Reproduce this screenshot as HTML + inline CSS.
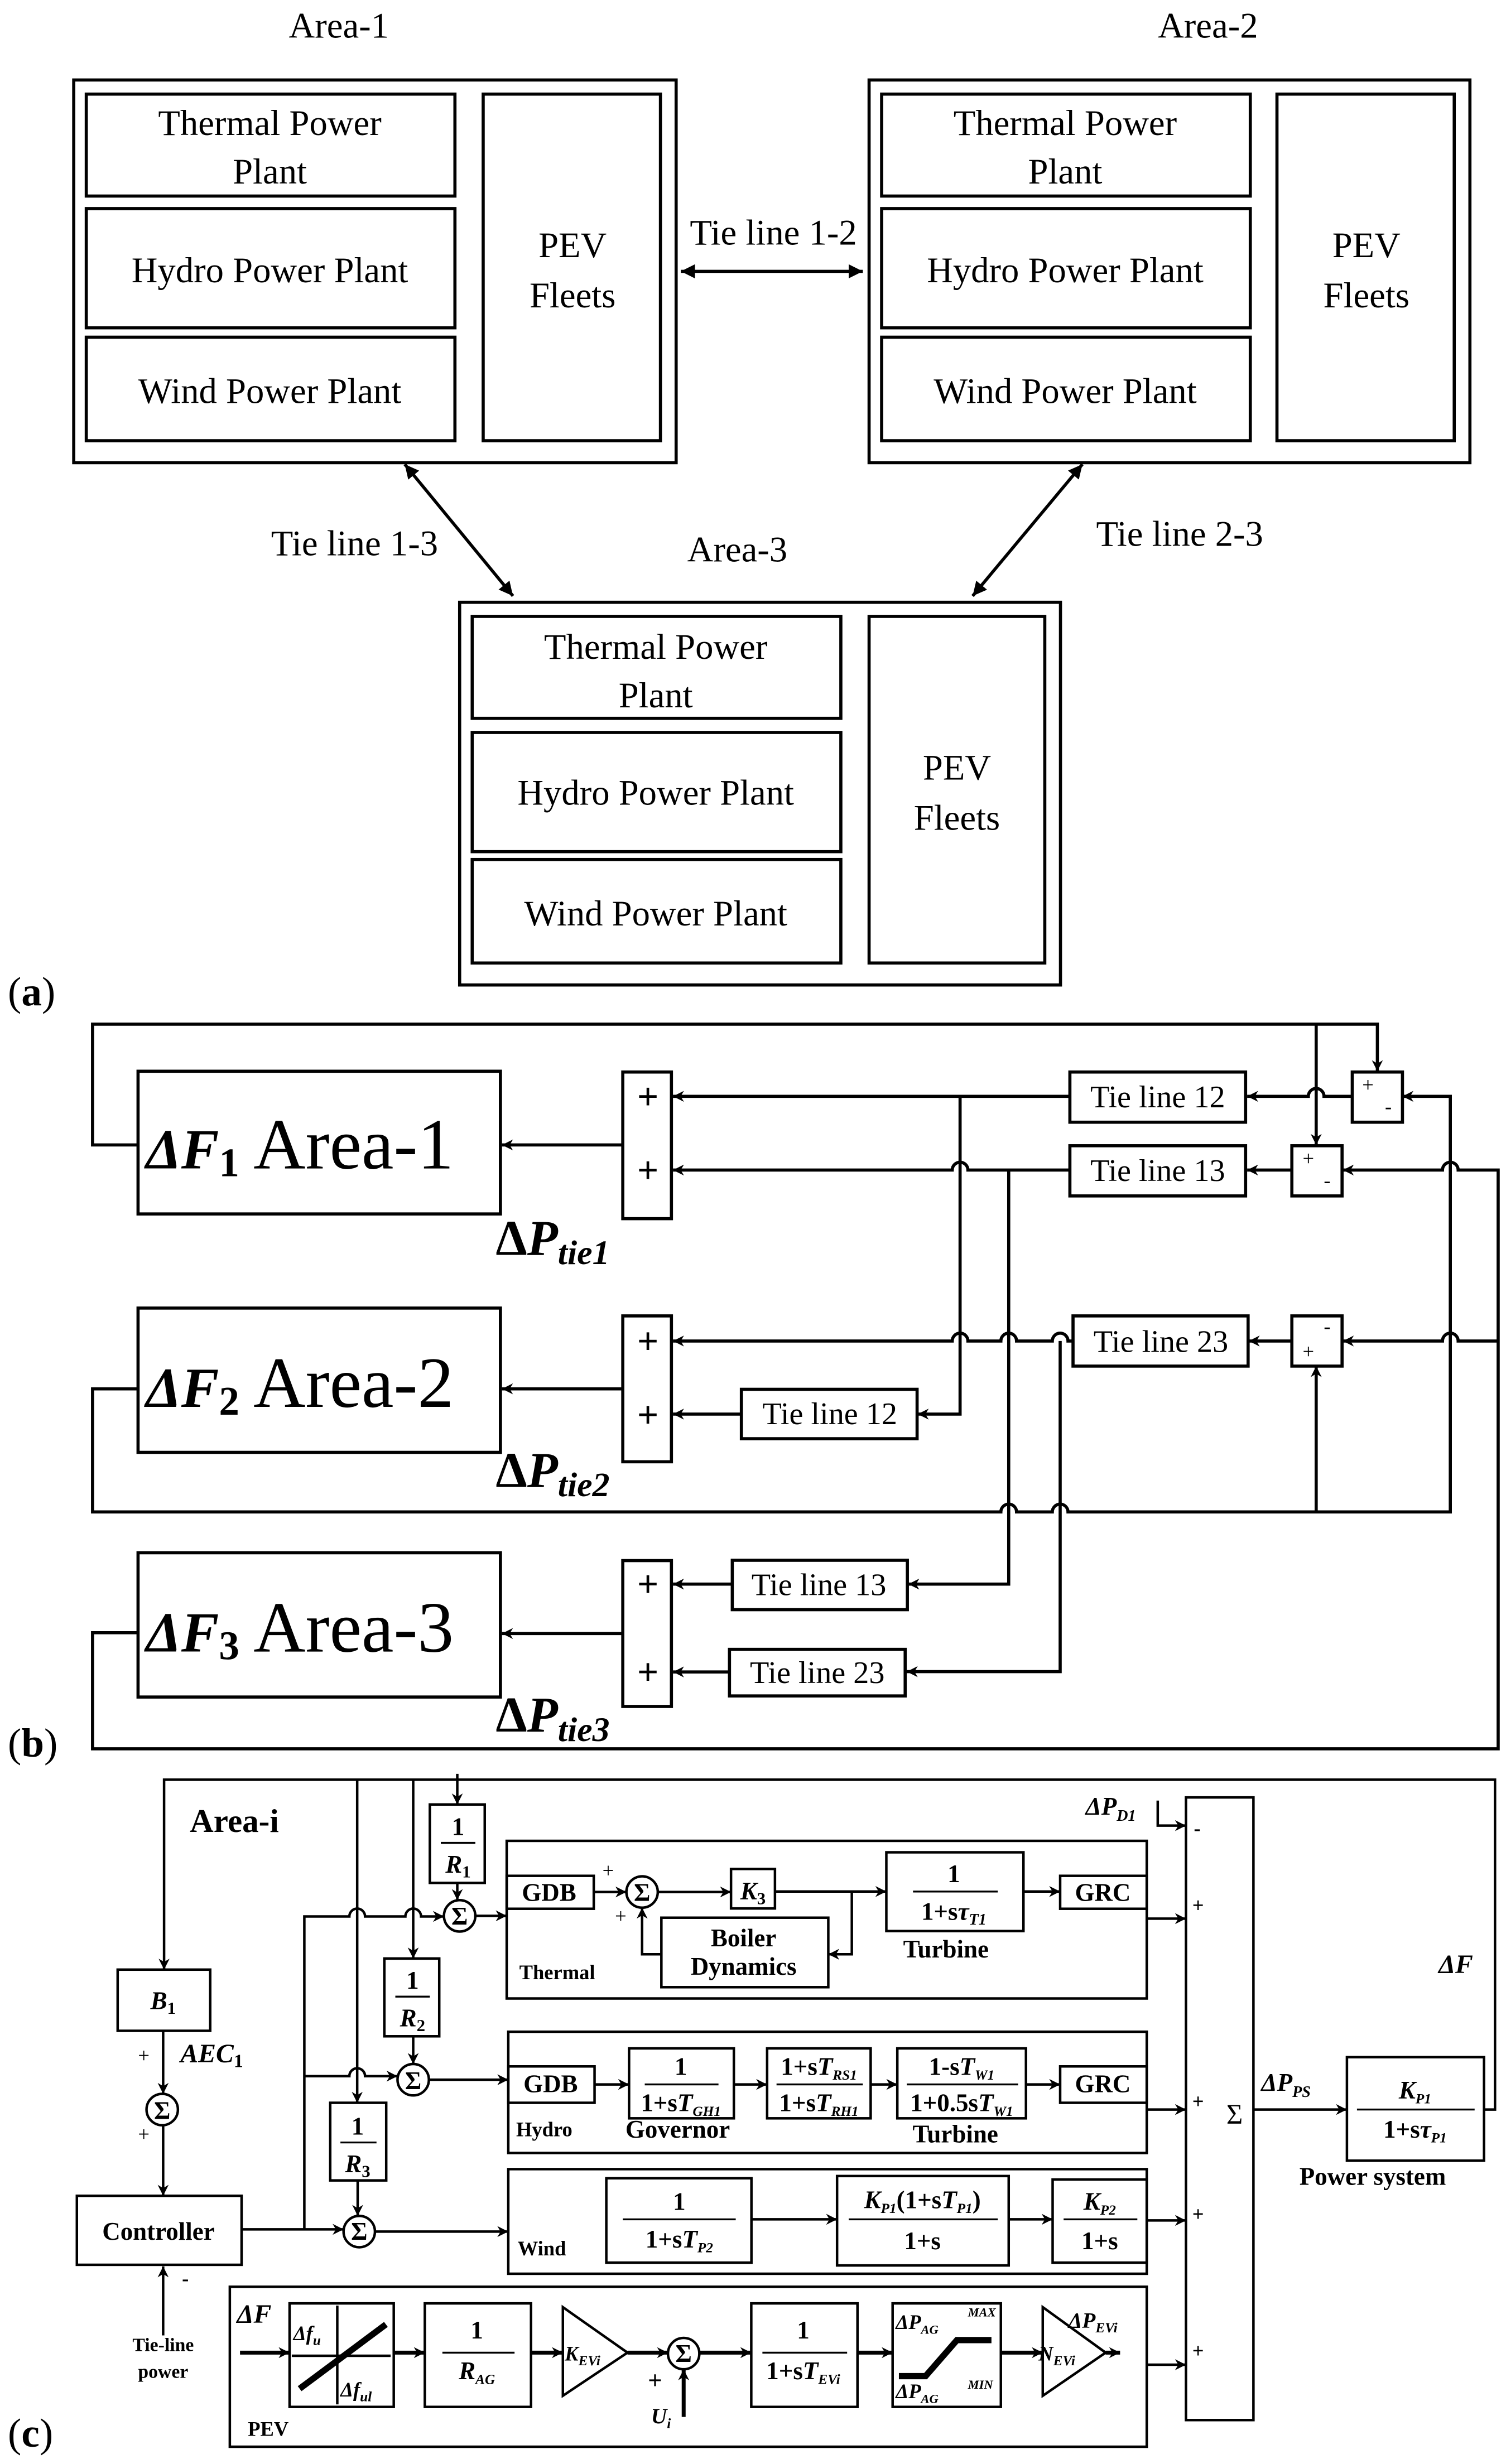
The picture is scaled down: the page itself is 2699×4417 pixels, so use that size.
<!DOCTYPE html>
<html><head><meta charset="utf-8"><style>
html,body{margin:0;padding:0;background:#fff}
svg{display:block}
.s{font-family:"Liberation Serif",serif}
.b{font-family:"Liberation Serif",serif;font-weight:bold}
</style></head><body>
<svg width="2699" height="4417" viewBox="0 0 960 1571" preserveAspectRatio="none" xmlns="http://www.w3.org/2000/svg">
<defs>
<marker id="a" viewBox="0 0 10 10" refX="10" refY="5" markerWidth="7" markerHeight="7" markerUnits="userSpaceOnUse" orient="auto"><path d="M0,0 L10,5 L0,10 L3,5 z" fill="#000"/></marker>
<marker id="a2" viewBox="0 0 10 10" refX="10" refY="5" markerWidth="9" markerHeight="9" markerUnits="userSpaceOnUse" orient="auto-start-reverse"><path d="M0,0 L10,5 L0,10 z" fill="#000"/></marker>
</defs>
<rect width="960" height="1571" fill="#fff"/>

<!-- ===== (a) ===== -->
<g fill="none" stroke="#000" stroke-width="2">
<rect x="47" y="51" width="384" height="244"/>
<rect x="55" y="60" width="235" height="65"/><rect x="55" y="133" width="235" height="76"/><rect x="55" y="215" width="235" height="66"/><rect x="308" y="60" width="113" height="221"/>
<rect x="554" y="51" width="383" height="244"/>
<rect x="562" y="60" width="235" height="65"/><rect x="562" y="133" width="235" height="76"/><rect x="562" y="215" width="235" height="66"/><rect x="814" y="60" width="113" height="221"/>
<rect x="293" y="384" width="383" height="244"/>
<rect x="301" y="393" width="235" height="65"/><rect x="301" y="467" width="235" height="76"/><rect x="301" y="548" width="235" height="66"/><rect x="554" y="393" width="112" height="221"/>
<line x1="434" y1="173" x2="550" y2="173" marker-start="url(#a2)" marker-end="url(#a2)"/>
<line x1="258" y1="296" x2="327" y2="380" marker-start="url(#a2)" marker-end="url(#a2)"/>
<line x1="690" y1="296" x2="620" y2="380" marker-start="url(#a2)" marker-end="url(#a2)"/>
</g>
<g class="s" font-size="23" text-anchor="middle" fill="#000">
<text x="216" y="24">Area-1</text><text x="770" y="24">Area-2</text><text x="470" y="358">Area-3</text>
<text x="172" y="86">Thermal Power</text><text x="172" y="117">Plant</text>
<text x="172" y="180">Hydro Power Plant</text><text x="172" y="257">Wind Power Plant</text>
<text x="365" y="164">PEV</text><text x="365" y="196">Fleets</text>
<text x="679" y="86">Thermal Power</text><text x="679" y="117">Plant</text>
<text x="679" y="180">Hydro Power Plant</text><text x="679" y="257">Wind Power Plant</text>
<text x="871" y="164">PEV</text><text x="871" y="196">Fleets</text>
<text x="418" y="420">Thermal Power</text><text x="418" y="451">Plant</text>
<text x="418" y="513">Hydro Power Plant</text><text x="418" y="590">Wind Power Plant</text>
<text x="610" y="497">PEV</text><text x="610" y="529">Fleets</text>
<text x="493" y="156">Tie line 1-2</text>
<text x="226" y="354">Tie line 1-3</text>
<text x="752" y="348">Tie line 2-3</text>
</g>
<text x="5" y="641" class="s" font-size="26" fill="#000">(<tspan font-weight="bold">a</tspan>)</text>

<!-- ===== (b) ===== -->
<g fill="none" stroke="#000" stroke-width="2">
<rect x="88" y="683" width="231" height="91"/><rect x="88" y="834" width="231" height="92"/><rect x="88" y="990" width="231" height="92"/>
<rect x="397" y="683.5" width="31" height="93.5"/><rect x="397" y="839" width="31" height="93"/><rect x="397" y="995" width="31" height="93"/>
<rect x="682" y="683.5" width="112" height="32"/><rect x="682" y="730.5" width="112" height="32"/><rect x="684" y="839" width="111.6" height="32"/>
<rect x="472.6" y="885.8" width="112" height="31.5"/><rect x="466.8" y="994.8" width="111.6" height="31.5"/><rect x="465" y="1051.6" width="112" height="29.7"/>
<rect x="862" y="683.5" width="32" height="32"/><rect x="823.5" y="730.5" width="32" height="32"/><rect x="823.5" y="839" width="32" height="32"/>
<g marker-end="url(#a)">
<line x1="397" y1="730" x2="320" y2="730"/><line x1="397" y1="885.5" x2="320" y2="885.5"/><line x1="397" y1="1041.5" x2="320" y2="1041.5"/>
<path d="M88,730 H59 V653 H878 V683"/>
<path d="M839,653 V730"/>
<path d="M862,699 H844 A5,5 0 0 0 834,699 H795"/>
<path d="M682,699 H429"/>
<path d="M823.5,746 H795"/>
<path d="M682,746 H617 A5,5 0 0 0 607,746 H429"/>
<path d="M612,699 V901.6 H585"/>
<path d="M823.5,855 H796"/>
<path d="M684,855 H680.8 A5,5 0 0 0 670.8,855 H648 A5,5 0 0 0 638,855 H617 A5,5 0 0 0 607,855 H429"/>
<path d="M643,746 V1010 H579"/>
<path d="M675.8,855 V1065.8 H578"/>
<path d="M472.6,901.6 H429"/><path d="M466.8,1010 H429"/><path d="M465,1066 H429"/>
<path d="M88,885.5 H59 V964 H638 A5,5 0 0 1 648,964 H670.8 A5,5 0 0 1 680.8,964 H924.5 V699 H894"/>
<path d="M839,964 V871"/>
<path d="M88,1041 H59 V1115 H955 V746 H929.5 A5,5 0 0 0 919.5,746 H856"/>
<path d="M955,855 H929.5 A5,5 0 0 0 919.5,855 H856"/>
</g>
</g>
<g class="b" font-size="24" text-anchor="middle" fill="#000">
<text x="413" y="707">+</text><text x="413" y="754">+</text><text x="413" y="863">+</text><text x="413" y="910">+</text><text x="413" y="1018">+</text><text x="413" y="1074">+</text>
</g>
<g class="s" font-size="13" fill="#000" text-anchor="middle">
<text x="872" y="696">+</text><text x="885" y="710">-</text>
<text x="834" y="743">+</text><text x="846" y="757">-</text>
<text x="846" y="850">-</text><text x="834" y="866">+</text>
</g>
<g class="s" font-size="20" fill="#000" text-anchor="middle">
<text x="738" y="706">Tie line 12</text><text x="738" y="753">Tie line 13</text><text x="740" y="862">Tie line 23</text>
<text x="529" y="908">Tie line 12</text><text x="522" y="1017">Tie line 13</text><text x="521" y="1073">Tie line 23</text>
</g>
<g class="s" font-size="46" fill="#000">
<text x="93" y="745"><tspan font-weight="bold" font-style="italic" font-size="36">ΔF</tspan><tspan font-weight="bold" font-size="26" dy="5">1</tspan><tspan dy="-5"> Area-1</tspan></text>
<text x="93" y="897"><tspan font-weight="bold" font-style="italic" font-size="36">ΔF</tspan><tspan font-weight="bold" font-size="26" dy="5">2</tspan><tspan dy="-5"> Area-2</tspan></text>
<text x="93" y="1053"><tspan font-weight="bold" font-style="italic" font-size="36">ΔF</tspan><tspan font-weight="bold" font-size="26" dy="5">3</tspan><tspan dy="-5"> Area-3</tspan></text>
</g>
<g class="b" font-size="32" fill="#000">
<text x="316" y="800">Δ<tspan font-style="italic">P</tspan><tspan font-size="22" font-style="italic" dy="6">tie1</tspan></text>
<text x="316" y="948">Δ<tspan font-style="italic">P</tspan><tspan font-size="22" font-style="italic" dy="6">tie2</tspan></text>
<text x="316" y="1104">Δ<tspan font-style="italic">P</tspan><tspan font-size="22" font-style="italic" dy="6">tie3</tspan></text>
</g>
<text x="5" y="1120" class="s" font-size="26" fill="#000">(<tspan font-weight="bold">b</tspan>)</text>

<!-- ===== (c) ===== -->
<g fill="none" stroke="#000" stroke-width="1.6">
<rect x="323" y="1173.7" width="408" height="100.5"/>
<rect x="324" y="1295.4" width="407" height="77.3"/>
<rect x="324" y="1383" width="407" height="66.7"/>
<rect x="146.5" y="1458" width="584.5" height="102"/>
<rect x="756" y="1146" width="43" height="397"/>
<rect x="858.6" y="1311.6" width="87.4" height="66"/>
<rect x="274" y="1150.5" width="35" height="50"/>
<rect x="245" y="1248.7" width="35" height="49.6"/>
<rect x="210.5" y="1340.7" width="35.7" height="49.5"/>
<rect x="75" y="1255.8" width="59" height="39"/>
<rect x="49" y="1400" width="105" height="44"/>
<circle cx="293" cy="1221.5" r="10"/><circle cx="263.4" cy="1326" r="10"/><circle cx="229" cy="1422.8" r="10"/><circle cx="103.4" cy="1345" r="10"/>
<rect x="323" y="1196" width="55.5" height="21"/>
<circle cx="409.3" cy="1206.3" r="10"/>
<rect x="466" y="1191.6" width="28" height="25.2"/>
<rect x="421.6" y="1222.7" width="106.4" height="44.3"/>
<rect x="565" y="1181" width="87.4" height="50.2"/>
<rect x="675.8" y="1196" width="55.2" height="21"/>
<rect x="324" y="1317.5" width="55" height="23.2"/>
<rect x="401" y="1306" width="66.8" height="44.6"/>
<rect x="489" y="1306" width="66" height="44.6"/>
<rect x="572" y="1306" width="82" height="44.6"/>
<rect x="675.8" y="1317.5" width="55.2" height="23.2"/>
<rect x="386.5" y="1388.8" width="92.5" height="53.8"/>
<rect x="533.6" y="1387.4" width="109.4" height="57"/>
<rect x="671" y="1389.6" width="60" height="53"/>
<rect x="184.6" y="1468.6" width="66.4" height="66"/>
<rect x="270.8" y="1468.6" width="67.7" height="66"/>
<path d="M358.8,1471 L400,1500 L358.8,1527.5 Z"/>
<circle cx="435.8" cy="1500.6" r="10"/>
<rect x="478.9" y="1468.6" width="67.7" height="66"/>
<rect x="569" y="1468.6" width="69" height="66"/>
<path d="M664.7,1471 L704.8,1500 L664.7,1527.5 Z"/>
<g marker-end="url(#a)">
<path d="M946,1345 H953 V1134.7 H104.6 V1255.8"/>
<path d="M227.7,1134.7 V1340.7"/>
<path d="M263.4,1134.7 V1248.7"/>
<path d="M291.5,1131 V1150.5"/>
<path d="M291.5,1200.6 V1211.5"/>
<path d="M194,1421.4 V1221.9 H222.7 A5,5 0 0 1 232.7,1221.9 H258.4 A5,5 0 0 1 268.4,1221.9 H283"/>
<path d="M303,1221.5 H323"/>
<path d="M263.4,1298.3 V1316"/>
<path d="M194,1323.7 H222.7 A5,5 0 0 1 232.7,1323.7 H253.4"/>
<path d="M273.4,1326 H324"/>
<path d="M228,1390.2 V1412.8"/>
<path d="M154,1421.4 H219"/>
<path d="M239,1422.8 H324"/>
<path d="M104,1294.8 V1335"/>
<path d="M104,1355 V1400"/>
<path d="M104,1489 V1445"/>
<path d="M378.5,1206.3 H399.3"/>
<path d="M419.3,1206.3 H466"/>
<path d="M494,1206 H565"/>
<path d="M543,1206 V1246 H528"/>
<path d="M421.6,1246 H409.3 V1216.3"/>
<path d="M652.4,1206 H675.8"/>
<path d="M379,1329 H401"/><path d="M467.8,1329 H489"/><path d="M555,1329 H572"/><path d="M654,1329 H675.8"/>
<path d="M479,1415 H533.6"/><path d="M643,1415 H671"/>
<path d="M731,1223.3 H756"/><path d="M731,1345 H756"/><path d="M731,1415.7 H756"/><path d="M731,1507.7 H756"/>
<path d="M738,1148 V1164 H756"/>
<path d="M799,1345 H858.6"/>
<path d="M153,1500 H184.6" stroke-width="2.5"/>
<path d="M251,1500 H270.8" stroke-width="2.5"/>
<path d="M338.5,1500 H358.8" stroke-width="2.5"/>
<path d="M400,1500 H425.8" stroke-width="2.5"/>
<path d="M435.8,1541 V1510.6" stroke-width="2.5"/>
<path d="M445.8,1500 H478.9" stroke-width="2.5"/>
<path d="M546.6,1500 H569" stroke-width="2.5"/>
<path d="M638,1500 H664.7" stroke-width="2.5"/>
<path d="M704.8,1500 H714" stroke-width="2.5"/>
</g>
<!-- deadband -->
<path d="M215,1470 V1533 M186,1502 H249"/>
<path d="M191,1523 L246,1482" stroke-width="4"/>
<path d="M573,1515 H590 L610,1492 H632" stroke-width="4"/>
<!-- fraction bars -->
<g stroke-width="1.2">
<path d="M281,1175 H303 M252,1273 H274 M217,1366 H240"/>
<path d="M582,1206 H636 M411,1329 H458 M495,1329 H550 M578,1329 H649 M397,1415 H469 M541,1415 H636 M678,1415 H725 M865,1345 H940 M282,1500 H328 M486,1500 H540"/>
</g>
</g>
<g class="b" fill="#000" font-size="16" text-anchor="middle">
<text x="292" y="1170">1</text><text x="292" y="1194" font-style="italic">R<tspan font-size="11" font-style="normal" dy="3">1</tspan></text>
<text x="263" y="1268">1</text><text x="263" y="1292" font-style="italic">R<tspan font-size="11" font-style="normal" dy="3">2</tspan></text>
<text x="228" y="1361">1</text><text x="228" y="1385" font-style="italic">R<tspan font-size="11" font-style="normal" dy="3">3</tspan></text>
<text x="104" y="1281" font-style="italic">B<tspan font-size="11" font-style="normal" dy="3">1</tspan></text>
<text x="101" y="1428">Controller</text>
<text x="350" y="1212">GDB</text>
<text x="480" y="1211" font-style="italic">K<tspan font-size="11" font-style="normal" dy="3">3</tspan></text>
<text x="474" y="1241">Boiler</text><text x="474" y="1259">Dynamics</text>
<text x="608" y="1200">1</text><text x="608" y="1224">1+s<tspan font-style="italic">τ</tspan><tspan font-size="10" font-style="italic" dy="3">T1</tspan></text>
<text x="703" y="1212">GRC</text>
<text x="603" y="1248">Turbine</text>
<text x="351" y="1334">GDB</text>
<text x="434" y="1323">1</text><text x="434" y="1346">1+s<tspan font-style="italic">T</tspan><tspan font-size="9" font-style="italic" dy="3">GH1</tspan></text>
<text x="522" y="1323">1+s<tspan font-style="italic">T</tspan><tspan font-size="9" font-style="italic" dy="3">RS1</tspan></text>
<text x="522" y="1346">1+s<tspan font-style="italic">T</tspan><tspan font-size="9" font-style="italic" dy="3">RH1</tspan></text>
<text x="613" y="1323">1-s<tspan font-style="italic">T</tspan><tspan font-size="9" font-style="italic" dy="3">W1</tspan></text>
<text x="613" y="1346">1+0.5s<tspan font-style="italic">T</tspan><tspan font-size="9" font-style="italic" dy="3">W1</tspan></text>
<text x="703" y="1334">GRC</text>
<text x="432" y="1363">Governor</text><text x="609" y="1366">Turbine</text>
<text x="433" y="1409">1</text><text x="433" y="1433">1+s<tspan font-style="italic">T</tspan><tspan font-size="9" font-style="italic" dy="3">P2</tspan></text>
<text x="588" y="1408"><tspan font-style="italic">K</tspan><tspan font-size="9" font-style="italic" dy="3">P1</tspan><tspan dy="-3">(1+s</tspan><tspan font-style="italic">T</tspan><tspan font-size="9" font-style="italic" dy="3">P1</tspan><tspan dy="-3">)</tspan></text>
<text x="588" y="1434">1+s</text>
<text x="701" y="1409" font-style="italic">K<tspan font-size="9" dy="3">P2</tspan></text><text x="701" y="1434">1+s</text>
<text x="902" y="1338" font-style="italic">K<tspan font-size="9" dy="3">P1</tspan></text>
<text x="902" y="1363">1+s<tspan font-style="italic">τ</tspan><tspan font-size="9" font-style="italic" dy="3">P1</tspan></text>
<text x="875" y="1393">Power system</text>
<text x="304" y="1491">1</text><text x="304" y="1517" font-style="italic">R<tspan font-size="9" dy="3">AG</tspan></text>
<text x="512" y="1491">1</text><text x="512" y="1517">1+s<tspan font-style="italic">T</tspan><tspan font-size="9" font-style="italic" dy="3">EVi</tspan></text>
<text x="104" y="1499" font-size="12">Tie-line</text><text x="104" y="1516" font-size="12">power</text>
</g>
<g class="b" fill="#000" font-size="16" text-anchor="middle">
<text x="293" y="1227">Σ</text><text x="263.4" y="1332">Σ</text><text x="229" y="1428">Σ</text><text x="103.4" y="1351">Σ</text><text x="409.3" y="1212">Σ</text><text x="435.8" y="1506">Σ</text>
<text x="787" y="1354" font-weight="normal" font-size="18">Σ</text>
</g>
<g class="b" fill="#000" font-size="13">
<text x="331" y="1262">Thermal</text><text x="329" y="1362">Hydro</text><text x="330" y="1438">Wind</text><text x="158" y="1553">PEV</text>
<text x="384" y="1197" font-weight="normal">+</text><text x="392" y="1226" font-weight="normal">+</text>
<text x="88" y="1315" font-weight="normal">+</text><text x="88" y="1365" font-weight="normal">+</text>
<text x="116" y="1457">-</text>
<text x="761" y="1170">-</text><text x="760" y="1219">+</text><text x="760" y="1344">+</text><text x="760" y="1416">+</text><text x="760" y="1503">+</text>
<text x="413" y="1523" font-size="16">+</text>
</g>
<g class="b" fill="#000" font-style="italic">
<text x="121" y="1168" font-size="21" font-style="normal">Area-i</text>
<text x="115" y="1315" font-size="17">AEC<tspan font-style="normal" font-size="12" dy="3">1</tspan></text>
<text x="917" y="1258" font-size="17">ΔF</text>
<text x="692" y="1157" font-size="16">ΔP<tspan font-size="10" dy="4">D1</tspan></text>
<text x="804" y="1333" font-size="16">ΔP<tspan font-size="10" dy="4">PS</tspan></text>
<text x="151" y="1481" font-size="17">ΔF</text>
<text x="187" y="1492" font-size="13">Δf<tspan font-size="9" dy="3">u</tspan></text>
<text x="217" y="1528" font-size="13">Δf<tspan font-size="9" dy="3">ul</tspan></text>
<text x="360" y="1505" font-size="13">K<tspan font-size="9" dy="3">EVi</tspan></text>
<text x="662" y="1505" font-size="13">N<tspan font-size="9" dy="3">EVi</tspan></text>
<text x="681" y="1484" font-size="14">ΔP<tspan font-size="9" dy="3">EVi</tspan></text>
<text x="415" y="1545" font-size="14">U<tspan font-size="9" dy="3">i</tspan></text>
<text x="571" y="1485" font-size="13">ΔP<tspan font-size="8" dy="3">AG</tspan></text>
<text x="617" y="1477" font-size="8">MAX</text>
<text x="571" y="1529" font-size="13">ΔP<tspan font-size="8" dy="3">AG</tspan></text>
<text x="617" y="1523" font-size="8">MIN</text>
</g>
<text x="5" y="1560" class="s" font-size="26" fill="#000">(<tspan font-weight="bold">c</tspan>)</text>
</svg>
</body></html>
